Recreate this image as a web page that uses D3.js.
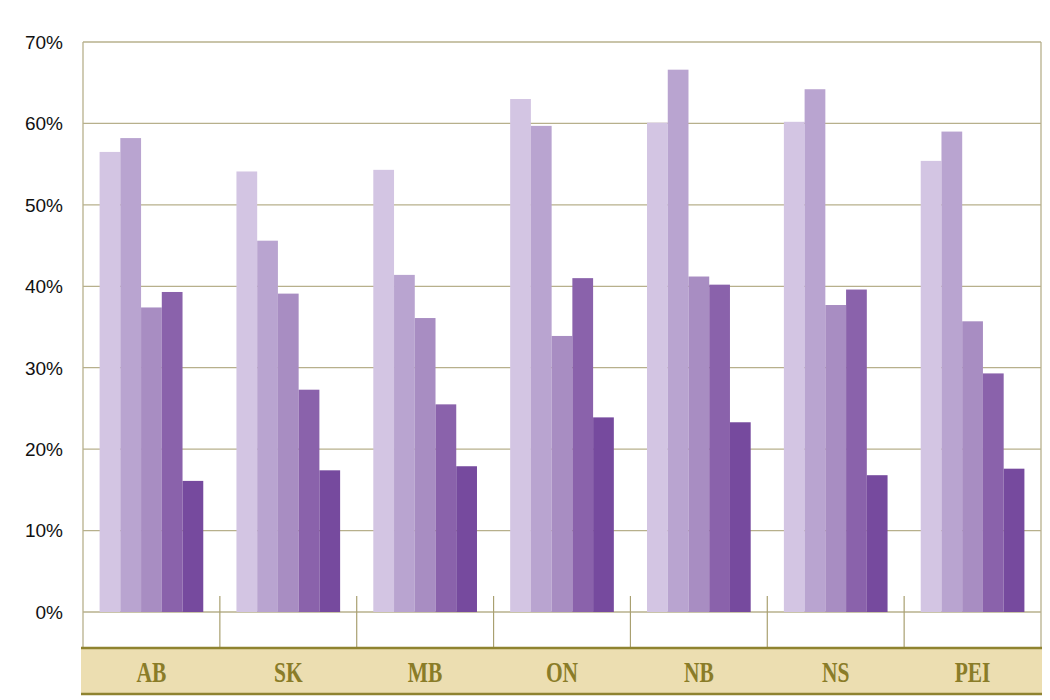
<!DOCTYPE html>
<html>
<head>
<meta charset="utf-8">
<script src="https://cdn.jsdelivr.net/npm/d3@7"></script>
<style>
  html, body { margin: 0; padding: 0; background: #ffffff; }
  svg { display: block; }
</style>
</head>
<body>
<svg id="chart" width="1050" height="700"></svg>
<script>
// ---- data ----
const categories = ["AB", "SK", "MB", "ON", "NB", "NS", "PEI"];
const seriesNames = ["s1", "s2", "s3", "s4", "s5"];
const s1 = [56.5, 54.1, 54.3, 63.0, 60.1, 60.2, 55.4];
const s2 = [58.2, 45.6, 41.4, 59.7, 66.6, 64.2, 59.0];
const s3 = [37.4, 39.1, 36.1, 33.9, 41.2, 37.7, 35.7];
const s4 = [39.3, 27.3, 25.5, 41.0, 40.2, 39.6, 29.3];
const s5 = [16.1, 17.4, 17.9, 23.9, 23.3, 16.8, 17.6];
const yTicks = [0, 10, 20, 30, 40, 50, 60, 70];
const seriesColors = ["#d3c5e3", "#b9a4d0", "#a88dc2", "#8a62ab", "#764a9e"];

const seriesValues = [s1, s2, s3, s4, s5];

// ---- layout ----
const plotLeft = 83, plotRight = 1041, plotTop = 42, zeroY = 612, axisBottom = 648;
const svg = d3.select("#chart");

const x0 = d3.scaleBand().domain(categories).range([plotLeft, plotRight]).paddingInner(0).paddingOuter(0);
const x1 = d3.scaleBand().domain(seriesNames).range([0, x0.bandwidth()]).paddingInner(0).paddingOuter(0.8);
const y = d3.scaleLinear().domain([0, 70]).range([zeroY, plotTop]);

const gridColor = "#b7b08c";

// gridlines
svg.append("g").selectAll("line").data(yTicks).join("line")
  .attr("x1", plotLeft).attr("x2", plotRight)
  .attr("y1", d => y(d)).attr("y2", d => y(d))
  .attr("stroke", gridColor).attr("stroke-width", 1.3);

// left and right frame lines
svg.append("line").attr("x1", plotLeft).attr("x2", plotLeft).attr("y1", plotTop).attr("y2", axisBottom)
  .attr("stroke", gridColor).attr("stroke-width", 1.3);
svg.append("line").attr("x1", plotRight).attr("x2", plotRight).attr("y1", plotTop).attr("y2", axisBottom)
  .attr("stroke", gridColor).attr("stroke-width", 1.3);

// bars
const groups = svg.append("g").selectAll("g").data(categories).join("g")
  .attr("transform", d => `translate(${x0(d)},0)`);
groups.selectAll("rect")
  .data((c, ci) => seriesNames.map((s, si) => ({ s, si, v: seriesValues[si][ci] })))
  .join("rect")
  .attr("x", d => x1(d.s))
  .attr("width", x1.bandwidth())
  .attr("y", d => y(d.v))
  .attr("height", d => y(0) - y(d.v))
  .attr("fill", d => seriesColors[d.si]);

// category separators
svg.append("g").selectAll("line").data(categories.slice(1)).join("line")
  .attr("x1", d => x0(d)).attr("x2", d => x0(d))
  .attr("y1", 596).attr("y2", axisBottom)
  .attr("stroke", "#a9a070").attr("stroke-width", 1.2);

// y axis labels
svg.append("g").selectAll("text").data(yTicks).join("text")
  .attr("x", 63).attr("y", d => y(d))
  .attr("dy", "0.36em")
  .attr("text-anchor", "end")
  .attr("font-family", "Liberation Sans, Arial, sans-serif")
  .attr("font-size", 19)
  .attr("fill", "#111")
  .text(d => d + "%");

// category band
svg.append("rect").attr("x", 81).attr("y", axisBottom).attr("width", 961).attr("height", 46)
  .attr("fill", "#ecdeb1");
svg.append("line").attr("x1", 81).attr("x2", 1042).attr("y1", axisBottom).attr("y2", axisBottom)
  .attr("stroke", "#8f8330").attr("stroke-width", 2.4);
svg.append("line").attr("x1", 81).attr("x2", 1042).attr("y1", 694).attr("y2", 694)
  .attr("stroke", "#8f8330").attr("stroke-width", 2.4);

// category labels
svg.append("g").selectAll("text").data(categories).join("text")
  .attr("transform", d => `translate(${x0(d) + x0.bandwidth() / 2},682) scale(0.74,1)`)
  .attr("text-anchor", "middle")
  .attr("font-family", "Liberation Serif, Times New Roman, serif")
  .attr("font-size", 29)
  .attr("font-weight", "bold")
  .attr("fill", "#8a7c28")
  .text(d => d);
</script>
</body>
</html>
